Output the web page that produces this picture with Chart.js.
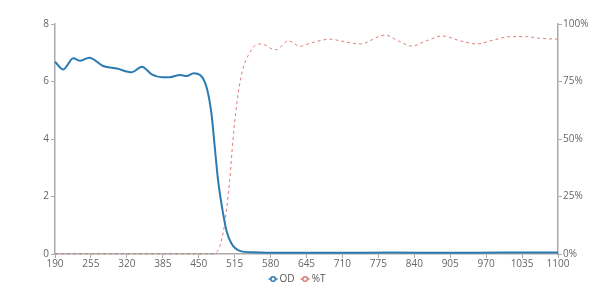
<!DOCTYPE html>
<html><head><meta charset="utf-8">
<script src="https://cdn.jsdelivr.net/npm/chart.js@4"></script>
<style>html,body{margin:0;padding:0;background:#fff;}#wrap{width:600px;height:286px;}</style>
</head><body><div id="wrap"><canvas id="c" width="600" height="286"></canvas></div>
<script>
const odWavelengths = [190,205,223,236,252,277,302,329,347,365,383,398,416,428,441,453,464,473,479,485,494,500,509,524,548,600,700,800,900,1000,1100];
const odValues      = [6.69,6.42,6.81,6.72,6.83,6.54,6.45,6.32,6.51,6.25,6.15,6.15,6.23,6.19,6.29,6.22,5.82,4.89,3.73,2.57,1.42,0.83,0.37,0.11,0.06,0.04,0.04,0.05,0.04,0.05,0.05];
const tWavelengths  = [190,474,480,488,497,506,512,519,528,540,558,570,580,590,612,633,651,688,706,742,787,811,835,862,890,923,953,983,1013,1043,1067,1100];
const tValues       = [0,0,0.4,3.2,13.3,32,49.6,65.5,78.6,86.5,91.3,90.9,89.4,88.8,92.7,90.3,91.6,93.4,92.7,91.3,95.2,92.7,90.4,92.7,94.8,92.7,91.3,93,94.5,94.5,93.8,93.4];
const xTickMin = 190, xTickMax = 1100, xTickStep = 65;
const odTickStep = 2, odMax = 8;
const tTickStep = 25, tMax = 100;

const odColor = '#2b7bb3';
const tColor = '#e07a7a';

const bottomLegend = {
  id: 'bottomLegend',
  afterDraw(chart) {
    const ctx = chart.ctx;
    ctx.save();
    ctx.font = '10px "Open Sans"';
    ctx.textBaseline = 'middle';
    const y = 279, iconW = 9, gap = 2, itemGap = 6;
    const items = chart.data.datasets.map(d => ({ text: d.label, color: d.borderColor, w: iconW + gap + ctx.measureText(d.label).width }));
    const total = items.reduce((s, it) => s + it.w, 0) + itemGap * (items.length - 1);
    let x = 297 - total / 2;
    items.forEach(it => {
      ctx.strokeStyle = it.color; ctx.lineWidth = 1.5;
      ctx.beginPath(); ctx.moveTo(x, y); ctx.lineTo(x + iconW, y); ctx.stroke();
      ctx.fillStyle = '#fff';
      ctx.beginPath(); ctx.arc(x + iconW / 2, y, 2.3, 0, Math.PI * 2); ctx.fill(); ctx.stroke();
      ctx.fillStyle = '#555';
      ctx.fillText(it.text, x + iconW + gap, y);
      x += it.w + itemGap;
    });
    ctx.restore();
  }
};

new Chart(document.getElementById('c'), {
  type: 'line',
  data: {
    datasets: [
      { label: 'OD', data: odWavelengths.map((x,i)=>({x, y: odValues[i]})), yAxisID: 'y',
        borderColor: odColor, backgroundColor: odColor, borderWidth: 2, pointRadius: 0,
        cubicInterpolationMode: 'monotone', clip: 4 },
      { label: '%T', data: tWavelengths.map((x,i)=>({x, y: tValues[i]})), yAxisID: 'y1',
        borderColor: tColor, backgroundColor: tColor, borderWidth: 1, borderDash: [3,3], pointRadius: 0,
        cubicInterpolationMode: 'monotone', clip: 4 }
    ]
  },
  plugins: [bottomLegend],
  options: {
    responsive: false, animation: false,
    layout: { padding: { top: 24, left: 0, right: 0, bottom: 0 } },
    plugins: {
      legend: { display: false },
      tooltip: { enabled: false }
    },
    scales: {
      x: { type: 'linear', min: xTickMin, max: xTickMax,
        afterBuildTicks: (s) => { const t=[]; for (let v=xTickMin; v<=xTickMax; v+=xTickStep) t.push({value:v}); s.ticks=t; },
        grid: { display: true, drawOnChartArea: false, tickLength: 4, color: '#aaa' },
        border: { color: '#aaa', width: 1.5 },
        ticks: { color: '#666', font: { family: 'Open Sans', size: 10 }, padding: 0, maxRotation: 0, autoSkip: false, callback: v => String(v) },
        afterFit: (s) => { s.height = 32; }
      },
      y: { position: 'left', min: 0, max: odMax,
        grid: { display: true, drawOnChartArea: false, tickLength: 4, color: '#aaa' },
        border: { color: '#aaa', width: 1.5 },
        ticks: { stepSize: odTickStep, color: '#666', font: { family: 'Open Sans', size: 10 }, padding: 2 },
        afterFit: (s) => { s.width = 55; }
      },
      y1: { position: 'right', min: 0, max: tMax,
        grid: { display: true, drawOnChartArea: false, tickLength: 4, color: '#aaa' },
        border: { color: '#aaa', width: 1.5 },
        ticks: { stepSize: tTickStep, color: '#666', font: { family: 'Open Sans', size: 10 }, padding: 1, callback: v => v + '%' },
        afterFit: (s) => { s.width = 42; }
      }
    }
  }
});
</script></body></html>
